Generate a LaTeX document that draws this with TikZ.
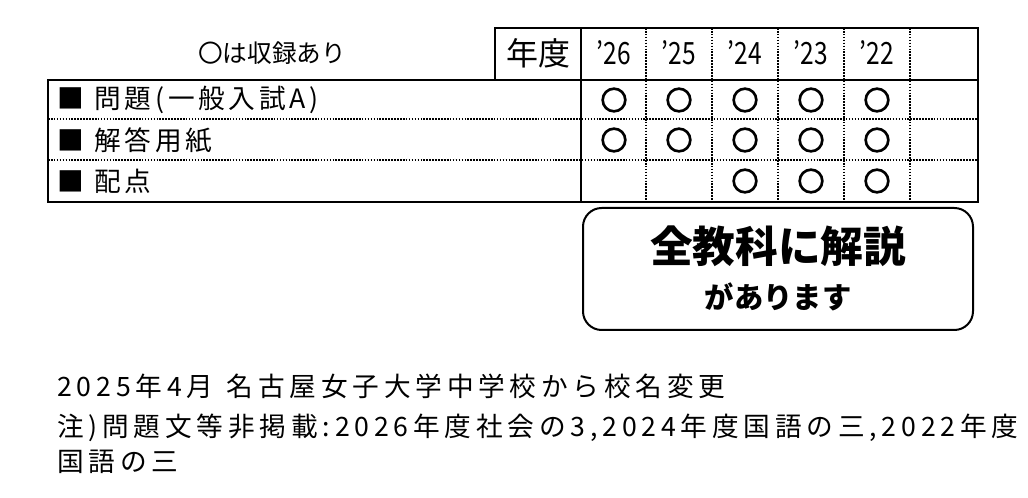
\documentclass[tikz,border=0pt]{standalone}
\usepackage{fontspec}
\setmainfont{Noto Sans CJK JP}
\usepackage{graphicx}
\begin{document}
\begin{tikzpicture}[x=0.75pt,y=-0.75pt,
  thick line/.style={line width=2.2pt},
  dotline/.style={line width=1.6pt,dash pattern=on 1.2pt off 1pt},
  okmark/.style={draw,line width=2pt,circle,minimum size=17pt,inner sep=0pt},
  lab/.style={anchor=west,font=\fontsize{20}{22}\selectfont\addfontfeatures{LetterSpace=14},inner sep=0pt},
  yr/.style={font=\fontsize{23}{24}\selectfont,inner sep=0pt},
  note/.style={anchor=west,font=\fontsize{20}{22}\selectfont\addfontfeatures{LetterSpace=18},inner sep=0pt}]
\useasboundingbox (0,0) rectangle (1028,498);
% dotted lines
\foreach \y in {119,160} \draw[dotline] (48,\y) -- (978,\y);
\foreach \x in {646,712,778,844,910} \draw[dotline] (\x,28) -- (\x,202);
% thick frame
\draw[thick line] (48,80) rectangle (978,202);
\draw[thick line] (495,28) rectangle (978,80);
\draw[thick line] (581,28) -- (581,202);
% header
\node[font=\fontsize{18.5}{20}\selectfont] (legend) at (272,53) {〇は収録あり};
\node[font=\fontsize{24}{26}\selectfont] (nendo) at (538,53) {年度};
\foreach \t/\x in {26/614,25/679,24/745,23/811,22/877}
  \node[yr] (y\t) at (\x,53) {\scalebox{0.8}[1]{’\t}};
% row labels
\node[lab] (r1) at (57,100) {■\hspace{0.4em}問題(一般入試A)};
\node[lab] (r2) at (57,140) {■\hspace{0.4em}解答用紙};
\node[lab] (r3) at (57,181) {■\hspace{0.4em}配点};
% marks
\foreach \x in {614,679,745,811,877} {
  \node[okmark] at (\x,100) {};
  \node[okmark] at (\x,140) {};
}
\foreach \x in {745,811,877} \node[okmark] at (\x,181) {};
% rounded box
\draw[line width=1.5pt,rounded corners=14pt] (583,208) rectangle (973,330);
\node[font=\fontsize{32}{34}\selectfont\bfseries] (b1) at (778,246) {全教科に解説};
\node[font=\fontsize{22}{24}\selectfont\bfseries] (b2) at (778,297) {があります};
% notes
\node[note] (n1) at (57,386) {2025年4月\hspace{0.5em}名古屋女子大学中学校から校名変更};
\node[note] (n2) at (57,428) {注)問題文等非掲載:2026年度社会の3,2024年度国語の三,2022年度};
\node[note] (n3) at (57,462) {国語の三};
\end{tikzpicture}
\end{document}
